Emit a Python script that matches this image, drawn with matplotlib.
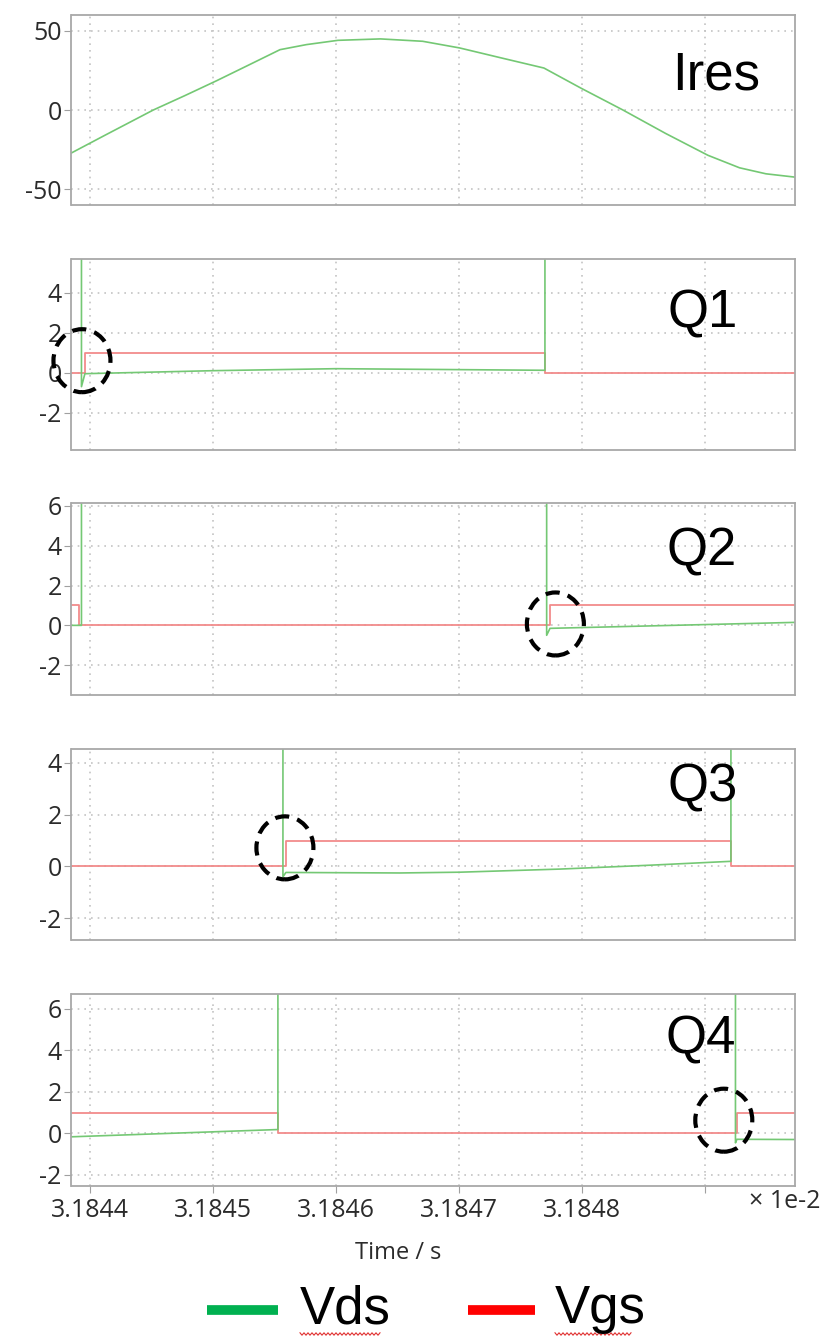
import numpy as np
import matplotlib.pyplot as plt
from matplotlib.patches import Ellipse
from matplotlib.lines import Line2D
from matplotlib import transforms

# time axis in units of 1e-2 s
t_start, t_end = 3.1843850, 3.1849732
x_ticks = [3.1844, 3.1845, 3.1846, 3.1847, 3.1848, 3.1849]
x_ticklabels = ['3.1844', '3.1845', '3.1846', '3.1847', '3.1848', '']

# resonant tank current
t_ires = [3.1843850, 3.1844128, 3.1844515, 3.1844772, 3.1845030, 3.1845288, 3.1845545,
          3.1845760, 3.1846016, 3.1846362, 3.1846705, 3.1847005, 3.1847349, 3.1847691,
          3.1847992, 3.1848333, 3.1848680, 3.1849024, 3.1849281, 3.1849496, 3.1849732]
ires = [-27.1, -15.7, 0.0, 9.1, 18.5, 28.3, 38.1,
        41.3, 44.0, 44.9, 43.4, 39.2, 32.8, 26.5,
        13.8, 0.0, -14.8, -28.6, -36.5, -40.3, -42.4]

# switch voltages (off-state Vds is far above the plotted range)
v_off = 400.0
t_q1_vds = [t_start, 3.1843931, 3.1843931, 3.1843959, 3.1845000, 3.1846000, 3.1847699, 3.1847699, t_end]
q1_vds = [v_off, v_off, -0.7, -0.05, 0.1, 0.2, 0.12, v_off, v_off]
t_q1_vgs = [t_start, 3.1843959, 3.1847699, t_end]
q1_vgs = [0, 1, 0, 0]

t_q2_vds = [t_start, 3.1843931, 3.1843931, 3.1847713, 3.1847713, 3.1847740, t_end]
q2_vds = [0.0, 0.0, v_off, v_off, -0.5, -0.15, 0.15]
t_q2_vgs = [t_start, 3.1843913, 3.1847740, t_end]
q2_vgs = [1, 0, 1, 1]

t_q3_vds = [t_start, 3.1845569, 3.1845569, 3.1845593, 3.1846520, 3.1847008, 3.1847821,
            3.1848553, 3.1849211, 3.1849211, t_end]
q3_vds = [v_off, v_off, -0.4, -0.23, -0.25, -0.22, -0.1, 0.05, 0.2, v_off, v_off]
t_q3_vgs = [t_start, 3.1845593, 3.1849211, t_end]
q3_vgs = [0, 1, 0, 0]

t_q4_vds = [t_start, 3.1845528, 3.1845528, 3.1849248, 3.1849248, 3.1849260, t_end]
q4_vds = [-0.16, 0.19, v_off, v_off, -0.45, -0.28, -0.29]
t_q4_vgs = [t_start, 3.1845528, 3.1849260, t_end]
q4_vgs = [1, 0, 1, 1]

# zero-voltage turn-on points that get circled
zvs_t = [3.1843935, 3.1847784, 3.1845585, 3.1849153]
zvs_v = [0.6, 0.07, 0.72, 0.64]

green = '#74c874'
red = '#f28b8b'
W, H = 828, 1339

plt.rcParams['font.family'] = ['Open Sans', 'DejaVu Sans']
plt.rcParams['axes.unicode_minus'] = False
fig = plt.figure(figsize=(W / 100, H / 100), dpi=100)

# panel boxes in pixels: (top, bottom)
boxes = [(15, 205), (259, 450), (503, 695), (749, 940), (994, 1186)]
left_px, right_px = 71.5, 795
ylims = [(-60, 60), (-3.87, 5.69), (-3.5, 6.15), (-2.84, 4.54), (-2.53, 6.72)]
yticks = [[-50, 0, 50], [-2, 0, 2, 4], [-2, 0, 2, 4, 6], [-2, 0, 2, 4], [-2, 0, 2, 4, 6]]
names = ['Ires', 'Q1', 'Q2', 'Q3', 'Q4']
name_x = [672, 668, 667, 668, 666]
name_y = [75, 313, 551, 788, 1040]

axes = []
for i, (top, bot) in enumerate(boxes):
    ax = fig.add_axes([left_px / W, 1 - bot / H, (right_px - left_px) / W, (bot - top) / H])
    ax.set_xlim(t_start, t_end)
    ax.set_ylim(*ylims[i])
    ax.set_yticks(yticks[i])
    ax.set_xticks(x_ticks)
    ax.grid(True, linestyle=(0, (1, 3)), color='#c4c4c4', linewidth=1.2)
    for s in ax.spines.values():
        s.set_color('#a8a8a8')
        s.set_linewidth(1.3)
    ax.tick_params(axis='y', length=5, color='#a0a0a0', labelsize=18, labelcolor='#2b2b2b', pad=2)
    if i < 4:
        ax.tick_params(axis='x', bottom=False, labelbottom=False)
    else:
        ax.set_xticklabels(x_ticklabels)
        ax.tick_params(axis='x', length=5, color='#a0a0a0', labelsize=18, labelcolor='#2b2b2b')
    ax.text((name_x[i] - left_px) / (right_px - left_px), (bot - name_y[i]) / (bot - top), names[i],
            transform=ax.transAxes, fontsize=38, family='Liberation Sans',
            ha='left', va='center', color='black')
    axes.append(ax)

axes[0].plot(t_ires, ires, color=green, lw=1.2)

series = [(t_q1_vds, q1_vds, t_q1_vgs, q1_vgs),
          (t_q2_vds, q2_vds, t_q2_vgs, q2_vgs),
          (t_q3_vds, q3_vds, t_q3_vgs, q3_vgs),
          (t_q4_vds, q4_vds, t_q4_vgs, q4_vgs)]
for k, (tv, vds, tg, vgs) in enumerate(series):
    ax = axes[k + 1]
    ax.plot(tg, vgs, color=red, lw=1.3, drawstyle='steps-post')
    ax.plot(tv, vds, color=green, lw=1.2)
    # dashed circle around the turn-on instant
    tr = fig.dpi_scale_trans + transforms.ScaledTranslation(zvs_t[k], zvs_v[k], ax.transData)
    ax.add_patch(Ellipse((0, 0), 0.57, 0.63, transform=tr, fill=False, edgecolor='black',
                         linewidth=3, linestyle=(0, (3.4, 2.0)), clip_on=False, zorder=5))

fig.text(749 / W, 1 - 1201 / H, '× 1e-2', fontsize=18, color='#2b2b2b', ha='left', va='center')
fig.text(398 / W, 1 - 1253 / H, 'Time / s', fontsize=17, color='#2b2b2b', ha='center', va='center')

# legend
fig.add_artist(Line2D([207 / W, 278 / W], [1 - 1310 / H] * 2, color='#00b050', lw=7,
                      transform=fig.transFigure, solid_capstyle='butt'))
fig.add_artist(Line2D([468 / W, 535 / W], [1 - 1310 / H] * 2, color='#ff0000', lw=7,
                      transform=fig.transFigure, solid_capstyle='butt'))
fig.text(300 / W, 1 - 1309 / H, 'Vds', fontsize=38, family='Liberation Sans', ha='left', va='center')
fig.text(555 / W, 1 - 1309 / H, 'Vgs', fontsize=38, family='Liberation Sans', ha='left', va='center')
for x0, x1 in [(300, 382), (555, 633)]:
    zx = np.arange(x0, x1, 2.0)
    zy = 1334 + np.where(np.arange(len(zx)) % 2 == 0, -1.2, 1.2)
    fig.add_artist(Line2D(zx / W, 1 - zy / H, color='#e03030', lw=0.8, transform=fig.transFigure))

fig.savefig('out.png', dpi=100)
